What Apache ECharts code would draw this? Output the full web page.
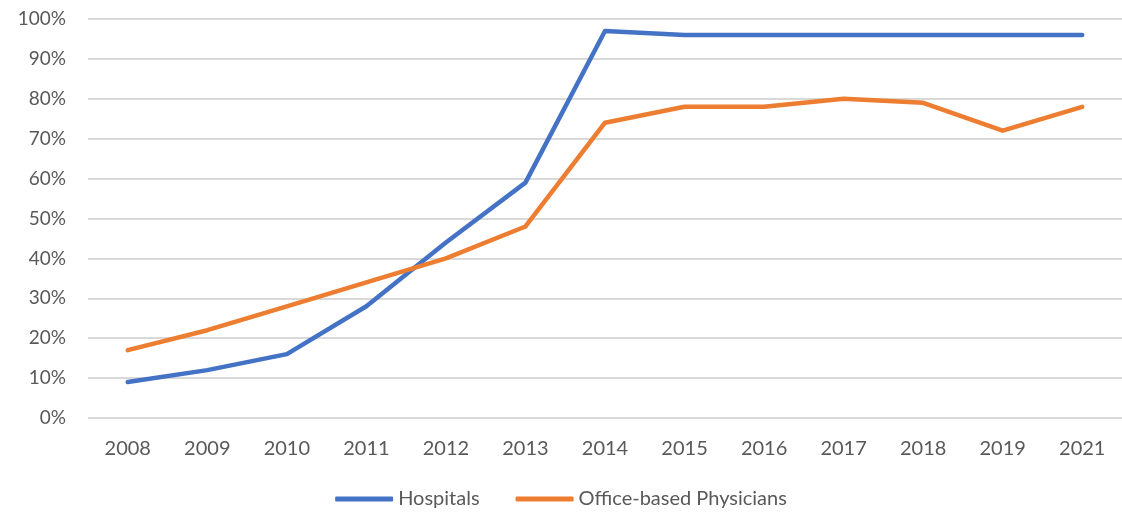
<!DOCTYPE html>
<html>
<head>
<meta charset="utf-8">
<script src="https://cdn.jsdelivr.net/npm/echarts@6/dist/echarts.min.js"></script>
<style>
  html, body { margin: 0; padding: 0; background: #fff; }
  #main { width: 1122px; height: 517px; }
</style>
</head>
<body>
<div id="main"></div>
<script>
var years = ['2008', '2009', '2010', '2011', '2012', '2013', '2014', '2015', '2016', '2017', '2018', '2019', '2021'];
var hospitals = [9, 12, 16, 28, 44, 59, 97, 96, 96, 96, 96, 96, 96];
var physicians = [17, 22, 28, 34, 40, 48, 74, 78, 78, 80, 79, 72, 78];

var chart = echarts.init(document.getElementById('main'));
var textColor = '#595959';
var fontName = 'Lato';

chart.setOption({
    animation: false,
    color: ['#4472C4', '#ED7D31'],
    grid: {
        left: 88,
        right: -6,
        top: 19,
        bottom: 99
    },
    legend: {
        bottom: 3,
        left: 'center',
        itemWidth: 58,
        itemHeight: 5,
        itemGap: 36,
        icon: 'roundRect',
        textStyle: { color: textColor, fontFamily: fontName, fontSize: 20 },
        data: ['Hospitals', 'Office-based Physicians']
    },
    xAxis: {
        type: 'category',
        data: years,
        boundaryGap: true,
        axisLine: { show: false },
        axisTick: { show: false },
        axisLabel: { color: textColor, fontFamily: fontName, fontSize: 20, margin: 21 }
    },
    yAxis: {
        type: 'value',
        min: 0,
        max: 100,
        interval: 10,
        axisLine: { show: false },
        axisTick: { show: false },
        splitLine: { lineStyle: { color: '#d9d9d9', width: 2 } },
        axisLabel: {
            color: textColor, fontFamily: fontName, fontSize: 19, margin: 22,
            formatter: function (v) { return v + '%'; }
        }
    },
    series: [{
        name: 'Hospitals',
        type: 'line',
        data: hospitals,
        symbol: 'none',
        lineStyle: { width: 4.5, cap: 'round', join: 'round' }
    }, {
        name: 'Office-based Physicians',
        type: 'line',
        data: physicians,
        symbol: 'none',
        lineStyle: { width: 4.5, cap: 'round', join: 'round' }
    }]
});
</script>
</body>
</html>
